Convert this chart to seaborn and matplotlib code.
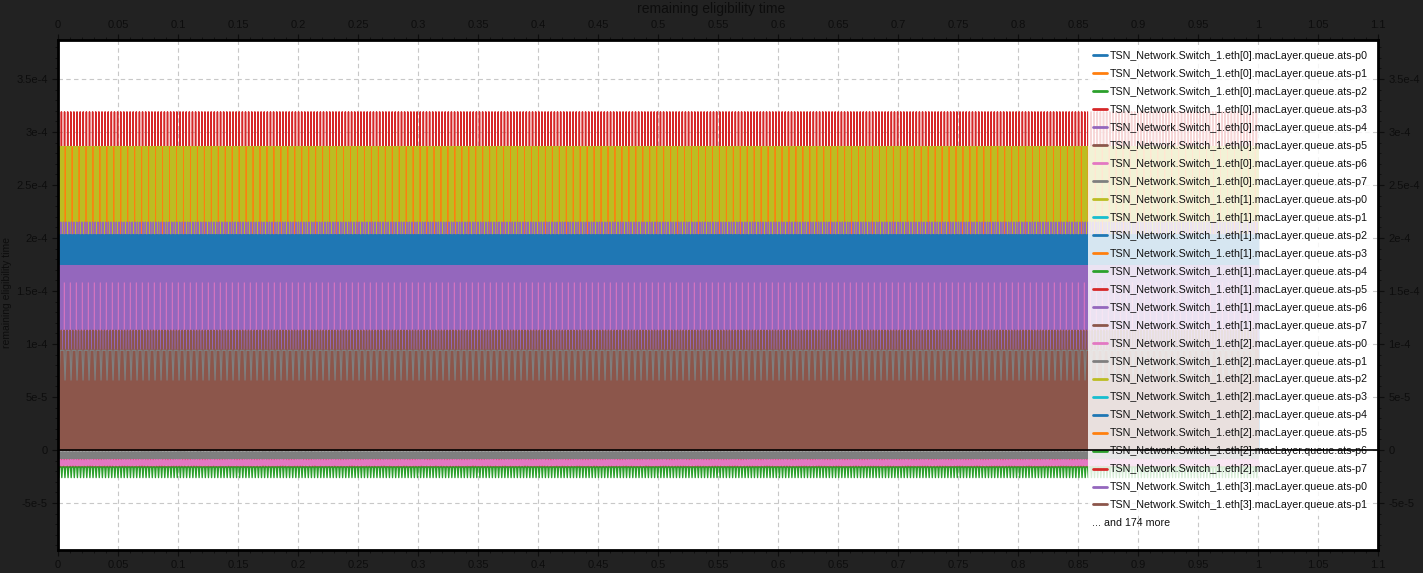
import numpy as np
import pandas as pd
import matplotlib
matplotlib.use("Agg")
import matplotlib.pyplot as plt
import seaborn as sns
from matplotlib.lines import Line2D
from matplotlib.ticker import MultipleLocator

# ---------------- data ----------------
TITLE = "remaining eligibility time"
YLABEL = "remaining eligibility time"
PREFIX = "TSN_Network.Switch_1"
legend_names = [f"{PREFIX}.eth[{e}].macLayer.queue.ats-p{p}"
                for e in range(4) for p in range(8)][:26]
more_count = 174

x_ticks = [0, 0.05, 0.1, 0.15, 0.2, 0.25, 0.3, 0.35, 0.4, 0.45, 0.5, 0.55,
           0.6, 0.65, 0.7, 0.75, 0.8, 0.85, 0.9, 0.95, 1, 1.05, 1.1]
x_labels = ["0", "0.05", "0.1", "0.15", "0.2", "0.25", "0.3", "0.35", "0.4",
            "0.45", "0.5", "0.55", "0.6", "0.65", "0.7", "0.75", "0.8", "0.85",
            "0.9", "0.95", "1", "1.05", "1.1"]
y_ticks = [-5e-5, 0, 5e-5, 1e-4, 1.5e-4, 2e-4, 2.5e-4, 3e-4, 3.5e-4]
y_labels = ["-5e-5", "0", "5e-5", "1e-4", "1.5e-4", "2e-4", "2.5e-4", "3e-4", "3.5e-4"]

# visible series (index into the series list -> colour), in drawing order.
# each series sits at a base value and peaks at a peak value once per step.
band_series = [3, 8, 1, 14, 0, 10, 4, 16, 15, 5, 7, 17, 13, 6, 2]
band_base = [0, 0, 14.0e-5, 0, 0, 17.4e-5, 0, 11.3e-5, 9.4e-5, 0, 9.4e-5,
             -0.15e-5, -1.6e-5, -1.5e-5, -1.6e-5]
band_peak = [31.9e-5, 28.6e-5, 28.6e-5, 21.5e-5, 20.3e-5, 20.3e-5, 17.4e-5,
             15.8e-5, 11.3e-5, 9.4e-5, 6.6e-5, -0.9e-5, -0.9e-5, -0.9e-5,
             -2.6e-5]
band_step = [0.0026, 0.0007, 0.0058, 0.0022, 0.0011, 0.0033, 0.0007, 0.0050,
             0.0024, 0.0006, 0.0050, 0.0012, 0.0024, 0.0014, 0.0026]
band_width = [0.2, 1.0, 0.05, 0.2, 1.0, 0.1, 1.0, 0.05, 0.25, 1.0, 0.35,
              1.0, 0.3, 1.0, 0.45]
t_end = 1.0

# ---------------- style ----------------
BG = "#222222"
TXT = "#0d0d0d"
line_w = [1.1, 1.0, 0.6, 1.0, 1.0, 0.8, 1.0, 0.35, 1.0, 1.0, 0.9,
          1.0, 1.0, 1.0, 1.0]
sns.set_theme(style="white")
plt.rcParams["font.family"] = ["Liberation Sans", "DejaVu Sans"]
plt.rcParams["axes.unicode_minus"] = False

fig = plt.figure(figsize=(14.23, 5.73), dpi=100, facecolor=BG)
ax = fig.add_axes([58 / 1423, 1 - 550 / 573, 1320 / 1423, 510 / 573])
ax.set_facecolor("white")

palette = sns.color_palette("tab10", 10)

for s, b, p, st, w, lw in zip(band_series, band_base, band_peak, band_step,
                              band_width, line_w):
    k = np.arange(0, t_end, st)
    t = np.empty(3 * len(k))
    v = np.empty(3 * len(k))
    t[0::3] = k
    t[1::3] = k + 0.5 * w * st
    t[2::3] = k + w * st
    v[0::3] = b
    v[1::3] = p
    v[2::3] = b
    df = pd.DataFrame({"t": t, "v": v})
    sns.lineplot(data=df, x="t", y="v", ax=ax, color=palette[s % 10],
                 linewidth=lw, sort=False, estimator=None, legend=False)

ax.axhline(0, color="black", linewidth=1.2, zorder=10)

ax.set_xlim(0, 1.1)
ax.set_ylim(-9.43e-5, 3.868e-4)
ax.set_xticks(x_ticks, x_labels)
ax.set_yticks(y_ticks, y_labels)
ax.xaxis.set_minor_locator(MultipleLocator(0.01))
ax.yaxis.set_minor_locator(MultipleLocator(1e-5))
ax.grid(True, which="major", color="#c8c8c8", linestyle=(0, (4, 3)), linewidth=0.8)
ax.tick_params(axis="both", which="both", direction="out", top=True, right=True,
               bottom=True, left=True, labeltop=True, labelright=True,
               labelbottom=True, labelleft=True, colors=TXT, labelcolor=TXT,
               labelsize=8)
ax.tick_params(which="major", length=4, width=0.8)
ax.tick_params(which="minor", length=2, width=0.6)
for sp in ax.spines.values():
    sp.set_color("black")
    sp.set_linewidth(2)
ax.set_xlabel("")
ax.set_ylabel("")
fig.text(7 / 1423, 1 - 293 / 573, YLABEL, rotation=90, ha="center", va="center",
         fontsize=7.5, color=TXT)
fig.text(0.5, 1 - 9 / 573, TITLE, ha="center", va="center", fontsize=10, color=TXT)

handles = [Line2D([], [], color=palette[i % 10], linewidth=2) for i in range(len(legend_names))]
leg = ax.legend(handles, legend_names, loc="upper right", bbox_to_anchor=(0.9977, 0.993),
                frameon=True, fontsize=7.7, handlelength=1.3, handletextpad=0.2,
                labelspacing=0.745, borderaxespad=0.2, borderpad=0.5)
leg.get_frame().set_facecolor("white")
leg.get_frame().set_alpha(0.82)
leg.get_frame().set_edgecolor("none")
leg.get_frame().set_linewidth(0)
for t in leg.get_texts():
    t.set_color("#111111")
ax.text(1092 / 1423, 1 - 523 / 573, f"... and {more_count} more", transform=fig.transFigure,
        fontsize=7.7, color="#111111", ha="left", va="center", zorder=11)

fig.savefig("out.png", dpi=100, facecolor=BG)
